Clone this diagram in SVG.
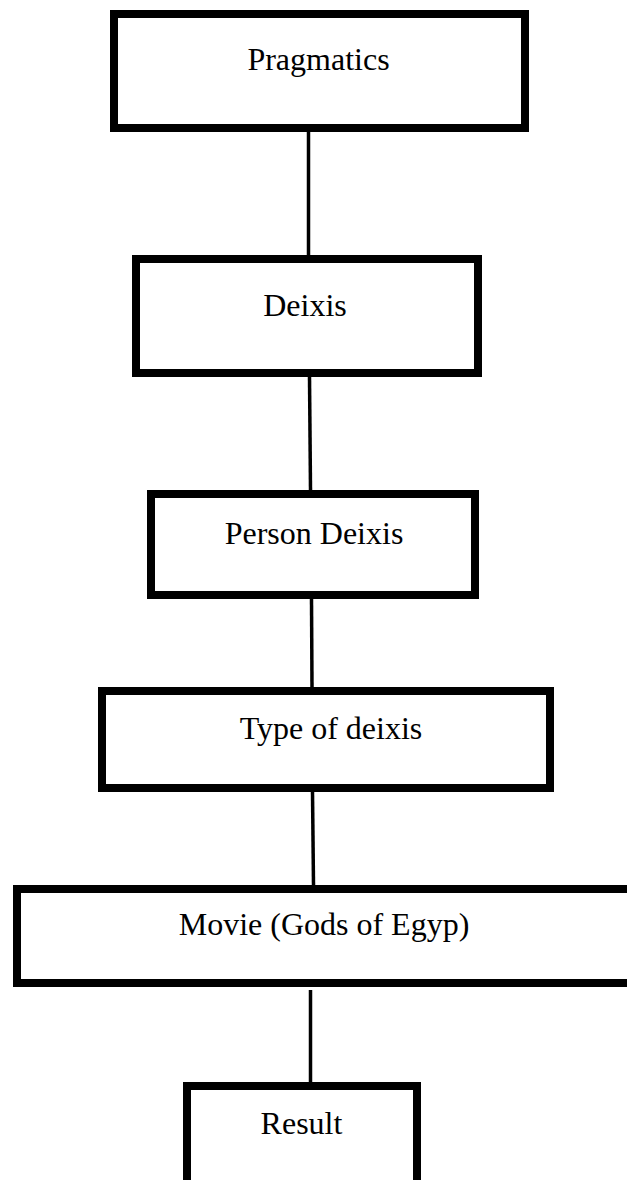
<svg xmlns="http://www.w3.org/2000/svg" width="627" height="1180" viewBox="0 0 627 1180">
<style>
.box{fill:#fff;stroke:#000;stroke-width:8}
.lbl{font-family:"Liberation Serif","Times New Roman",serif;font-size:32px;fill:#000;text-anchor:middle}
.con line{stroke:#000;stroke-width:3.5}
</style>
<rect x="0" y="0" width="627" height="1180" fill="#fff"/>
<g class="con" id="connectors">
<line x1="308.5" y1="132" x2="308.5" y2="255"/>
<line x1="309.5" y1="377" x2="310.5" y2="490"/>
<line x1="311.5" y1="599" x2="312" y2="687"/>
<line x1="312.5" y1="792" x2="313.5" y2="885"/>
<line x1="310.5" y1="990" x2="310.5" y2="1082"/>
</g>
<g id="n1"><rect class="box" x="114" y="14" width="411" height="114"/><text class="lbl" x="318.5" y="70">Pragmatics</text></g>
<g id="n2"><rect class="box" x="136" y="259" width="342" height="114"/><text class="lbl" x="305" y="316">Deixis</text></g>
<g id="n3"><rect class="box" x="151" y="494" width="324" height="101"/><text class="lbl" x="314" y="544">Person Deixis</text></g>
<g id="n4"><rect class="box" x="102" y="691" width="448" height="97"/><text class="lbl" x="331" y="739">Type of deixis</text></g>
<g id="n5"><rect class="box" x="17" y="889" width="630" height="94"/><text class="lbl" x="324" y="935">Movie (Gods of Egyp)</text></g>
<g id="n6"><rect class="box" x="187" y="1086" width="230" height="120"/><text class="lbl" x="301.5" y="1134">Result</text></g>
</svg>
